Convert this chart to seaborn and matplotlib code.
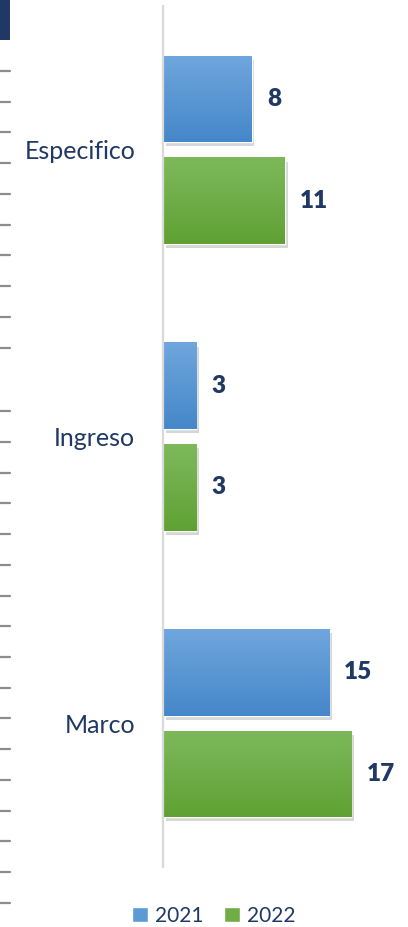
import numpy as np
import pandas as pd
import matplotlib
matplotlib.use("Agg")
import matplotlib.pyplot as plt
import matplotlib.patheffects as pe
from matplotlib.colors import LinearSegmentedColormap
from matplotlib.lines import Line2D
from matplotlib.patches import Rectangle
import seaborn as sns

# --- data ---
categories = ["Especifico", "Ingreso", "Marco"]
years = ["2021", "2022"]
values_2021 = [8, 3, 15]
values_2022 = [11, 3, 17]

navy = "#1F3864"
colors = {"2021": "#5B9BD5", "2022": "#70AD47"}
grad = {"2021": ("#6FA6DD", "#4587CA"), "2022": ("#7DB95B", "#60A134")}

df = pd.DataFrame({
    "categoria": categories * 2,
    "year": [years[0]] * 3 + [years[1]] * 3,
    "valor": values_2021 + values_2022,
})

sns.set_theme(style="white")
plt.rcParams["font.family"] = ["Lato", "DejaVu Sans"]

W, H = 408, 927
fig = plt.figure(figsize=(W / 100, H / 100), dpi=100)
ax = fig.add_axes([163 / W, (H - 866.5) / H, (400 - 163) / W, (866.5 - 6.5) / H])

sns.barplot(data=df, y="categoria", x="valor", hue="year", order=categories,
            hue_order=years, palette=colors, orient="h", width=0.71, gap=0.15,
            ax=ax, legend=False)

# gradient fill + soft shadow on each bar
for cont, yr in zip(ax.containers, years):
    cmap = LinearSegmentedColormap.from_list(yr, grad[yr])
    for p in cont.patches:
        p.set_path_effects([pe.SimplePatchShadow(offset=(2, -3), alpha=0.2, rho=0.4),
                            pe.Normal()])
        x0, y0, w, h = p.get_x(), p.get_y(), p.get_width(), p.get_height()
        img = ax.imshow(np.linspace(0, 1, 64).reshape(-1, 1), cmap=cmap, aspect="auto",
                        extent=(x0, x0 + w, y0 + h, y0), origin="upper", zorder=p.get_zorder() + 0.1)
        img.set_clip_path(p)
    ax.bar_label(cont, padding=11, fontsize=17.5, fontweight="heavy", color=navy)

ax.set_xlim(0, 237 / 11.07)
ax.set_ylim(2.5, -0.5)
ax.set_xlabel("")
ax.set_ylabel("")
ax.set_xticks([])
ax.tick_params(axis="y", length=0, pad=20, labelsize=18, labelcolor=navy)
for s in ["top", "right", "bottom"]:
    ax.spines[s].set_visible(False)
ax.spines["left"].set_color("#D9D9D9")
ax.spines["left"].set_linewidth(1.6)

# legend
handles = [Rectangle((0, 0), 1, 1, facecolor=colors[y]) for y in years]
fig.legend(handles, years, loc="center", bbox_to_anchor=(214 / W, 1 - 916 / H),
           ncol=2, frameon=False, fontsize=15, labelcolor=navy,
           handlelength=0.75, handleheight=0.75, handletextpad=0.35, columnspacing=1.0)

# slide decorations on the left edge
fig.add_artist(Rectangle((0, 1 - 40 / H), 10 / W, 40 / H, transform=fig.transFigure,
                         facecolor=navy, edgecolor="none"))
dash_y = [71, 102, 132, 163, 194, 225, 255, 286, 317, 348, 411, 442, 473, 503, 534,
          565, 596, 626, 657, 688, 718, 749, 780, 811, 841, 872, 903]
for yy in dash_y:
    fig.add_artist(Line2D([0, 10 / W], [1 - yy / H] * 2, transform=fig.transFigure,
                          color="#8C8C8C", linewidth=1.6))

fig.savefig("out.png", dpi=100)
